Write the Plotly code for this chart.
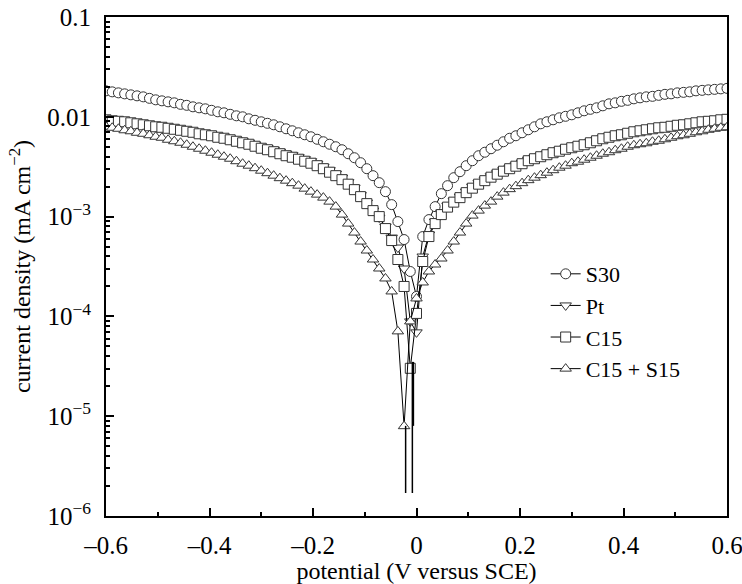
import plotly.graph_objects as go

# Potential (V versus SCE) sampling grid
potential = [-0.6, -0.588, -0.576, -0.564, -0.552, -0.54, -0.528, -0.516, -0.504, -0.492,
             -0.48, -0.468, -0.456, -0.444, -0.432, -0.42, -0.408, -0.396, -0.384, -0.372,
             -0.36, -0.348, -0.336, -0.324, -0.312, -0.3, -0.288, -0.276, -0.264, -0.252,
             -0.24, -0.228, -0.216, -0.204, -0.192, -0.18, -0.168, -0.156, -0.144, -0.132,
             -0.12, -0.108, -0.096, -0.084, -0.072, -0.06, -0.048, -0.036, -0.024, -0.012,
             0.0,
             0.012, 0.024, 0.036, 0.048, 0.06, 0.072, 0.084, 0.096, 0.108, 0.12,
             0.132, 0.144, 0.156, 0.168, 0.18, 0.192, 0.204, 0.216, 0.228, 0.24,
             0.252, 0.264, 0.276, 0.288, 0.3, 0.312, 0.324, 0.336, 0.348, 0.36,
             0.372, 0.384, 0.396, 0.408, 0.42, 0.432, 0.444, 0.456, 0.468, 0.48,
             0.492, 0.504, 0.516, 0.528, 0.54, 0.552, 0.564, 0.576, 0.588, 0.6]

# log10 of current density (mA cm^-2)
s30_log = [-1.74, -1.75, -1.76, -1.77, -1.78, -1.79, -1.80, -1.815, -1.83, -1.84,
           -1.85, -1.86, -1.875, -1.885, -1.90, -1.91, -1.92, -1.935, -1.95, -1.96,
           -1.975, -1.99, -2.00, -2.02, -2.035, -2.05, -2.065, -2.08, -2.10, -2.12,
           -2.14, -2.16, -2.18, -2.20, -2.225, -2.25, -2.275, -2.30, -2.33, -2.37,
           -2.41, -2.46, -2.52, -2.59, -2.66, -2.75, -2.88, -3.05, -3.23, -3.55,
           -3.80,
           -3.20, -3.03, -2.90, -2.77, -2.69, -2.61, -2.55, -2.49, -2.44, -2.39,
           -2.355, -2.32, -2.285, -2.25, -2.215, -2.19, -2.16, -2.13, -2.10, -2.07,
           -2.05, -2.03, -2.01, -1.995, -1.98, -1.96, -1.94, -1.925, -1.91, -1.89,
           -1.87, -1.86, -1.845, -1.835, -1.82, -1.81, -1.80, -1.795, -1.785, -1.775,
           -1.77, -1.76, -1.755, -1.75, -1.74, -1.735, -1.73, -1.725, -1.72, -1.715]

pt_log = [-2.02, -2.03, -2.035, -2.04, -2.05, -2.06, -2.07, -2.08, -2.09, -2.095,
          -2.105, -2.115, -2.125, -2.135, -2.145, -2.16, -2.17, -2.18, -2.195, -2.205,
          -2.22, -2.23, -2.245, -2.26, -2.28, -2.30, -2.315, -2.33, -2.35, -2.37,
          -2.385, -2.405, -2.425, -2.445, -2.47, -2.50, -2.535, -2.57, -2.61, -2.655,
          -2.71, -2.785, -2.86, -2.94, -3.01, -3.10, -3.21, -3.31, -3.52, -4.05,
          -4.16,
          -3.40, -3.18, -3.05, -2.96, -2.89, -2.84, -2.80, -2.75, -2.70, -2.665,
          -2.63, -2.595, -2.565, -2.535, -2.51, -2.485, -2.46, -2.43, -2.41, -2.39,
          -2.37, -2.35, -2.335, -2.315, -2.30, -2.285, -2.27, -2.25, -2.23, -2.21,
          -2.195, -2.18, -2.17, -2.155, -2.14, -2.13, -2.12, -2.11, -2.10, -2.095,
          -2.085, -2.075, -2.07, -2.06, -2.05, -2.04, -2.035, -2.03, -2.02, -2.015]

c15_log = [-2.03, -2.04, -2.045, -2.05, -2.06, -2.07, -2.08, -2.09, -2.10, -2.105,
           -2.115, -2.125, -2.135, -2.145, -2.155, -2.17, -2.18, -2.19, -2.205, -2.215,
           -2.23, -2.245, -2.26, -2.275, -2.295, -2.315, -2.33, -2.35, -2.37, -2.39,
           -2.405, -2.425, -2.445, -2.465, -2.49, -2.52, -2.555, -2.59, -2.63, -2.675,
           -2.73, -2.80, -2.87, -2.94, -3.00, -3.12, -3.24, -3.43, -3.70, -4.52,
           -3.97,
           -3.45, -3.20, -3.07, -2.98, -2.905, -2.855, -2.81, -2.76, -2.715, -2.675,
           -2.64, -2.605, -2.575, -2.545, -2.52, -2.495, -2.47, -2.44, -2.42, -2.40,
           -2.38, -2.36, -2.345, -2.325, -2.31, -2.295, -2.28, -2.26, -2.24, -2.22,
           -2.205, -2.19, -2.18, -2.165, -2.15, -2.14, -2.13, -2.12, -2.11, -2.105,
           -2.095, -2.085, -2.08, -2.07, -2.06, -2.05, -2.045, -2.04, -2.03, -2.025]

c15s15_log = [-2.10, -2.11, -2.12, -2.135, -2.145, -2.16, -2.17, -2.185, -2.20, -2.21,
              -2.23, -2.245, -2.26, -2.28, -2.30, -2.32, -2.34, -2.36, -2.38, -2.40,
              -2.42, -2.445, -2.47, -2.49, -2.515, -2.54, -2.565, -2.59, -2.615, -2.64,
              -2.665, -2.69, -2.72, -2.75, -2.78, -2.81, -2.85, -2.90, -2.98, -3.07,
              -3.16, -3.25, -3.34, -3.43, -3.52, -3.62, -3.75, -4.15, -5.10, -4.05,
              -3.82,
              -3.66, -3.55, -3.48, -3.42, -3.34, -3.25, -3.16, -3.07, -2.99, -2.94,
              -2.89, -2.85, -2.80, -2.76, -2.725, -2.695, -2.665, -2.635, -2.61, -2.585,
              -2.56, -2.535, -2.51, -2.49, -2.465, -2.45, -2.43, -2.41, -2.39, -2.37,
              -2.355, -2.335, -2.32, -2.30, -2.285, -2.275, -2.265, -2.25, -2.24, -2.225,
              -2.21, -2.195, -2.185, -2.17, -2.155, -2.145, -2.13, -2.12, -2.11, -2.105]

# near-zero current dips of the connecting lines around the corrosion potential
spike_potential = [-0.021, -0.008, -0.006]
spike_top = [8e-6, 3.5e-5, 3.5e-5]
spike_bottom = [1.7e-6, 1.7e-6, 8e-6]

series_names = ["S30", "Pt", "C15", "C15 + S15"]
series_logs = [s30_log, pt_log, c15_log, c15s15_log]
symbols = ["circle", "triangle-down", "square", "triangle-up"]

x_tick_vals = [-0.6, -0.4, -0.2, 0, 0.2, 0.4, 0.6]
x_tick_text = ["–0.6", "–0.4", "–0.2", "0", "0.2", "0.4", "0.6"]
x_minor_vals = [-0.5, -0.3, -0.1, 0.1, 0.3, 0.5]
y_tick_vals = [1e-6, 1e-5, 1e-4, 1e-3, 1e-2, 1e-1]
y_tick_text = ["10<sup>−6</sup>", "10<sup>−5</sup>", "10<sup>−4</sup>",
               "10<sup>−3</sup>", "0.01", "0.1"]
y_minor_vals = [m * d for d in [1e-6, 1e-5, 1e-4, 1e-3, 1e-2] for m in range(2, 10)]

FONT = "Liberation Serif"

fig = go.Figure()
for name, logs, sym in zip(series_names, series_logs, symbols):
    assert len(logs) == len(potential), name
    fig.add_trace(go.Scatter(
        x=potential, y=[10 ** v for v in logs], name=name,
        mode="lines+markers",
        line=dict(color="black", width=1),
        marker=dict(symbol=sym, size=10, color="white",
                    line=dict(color="#333333", width=1)),
    ))

for e, top, bot in zip(spike_potential, spike_top, spike_bottom):
    fig.add_trace(go.Scatter(x=[e, e], y=[top, bot], mode="lines",
                             line=dict(color="black", width=1.5),
                             showlegend=False, hoverinfo="skip"))

fig.update_layout(
    width=742, height=584,
    margin=dict(l=106, r=15, t=17, b=68),
    paper_bgcolor="white", plot_bgcolor="white",
    font=dict(family=FONT, size=24, color="black"),
    showlegend=True,
    legend=dict(x=0.708, y=0.527, xanchor="left", yanchor="top",
                bgcolor="rgba(0,0,0,0)", font=dict(size=22, family=FONT),
                tracegroupgap=0),
)
fig.update_xaxes(
    range=[-0.6, 0.6], showgrid=False, zeroline=False, automargin=False,
    showline=True, linecolor="black", linewidth=2, mirror=True,
    ticks="inside", ticklen=8, tickwidth=2, tickcolor="black",
    tickmode="array", tickvals=x_tick_vals, ticktext=x_tick_text,
    minor=dict(ticks="inside", ticklen=4, tickwidth=1.5, tickcolor="black",
               tickmode="array", tickvals=x_minor_vals),
    tickfont=dict(size=25), ticklabelstandoff=6, ticklabeloverflow="allow",
    title=dict(text="potential (V versus SCE)", font=dict(size=24), standoff=2),
)
fig.update_yaxes(
    type="log", range=[-6, -1], showgrid=False, zeroline=False, automargin=False,
    showline=True, linecolor="black", linewidth=2, mirror=True,
    ticks="inside", ticklen=8, tickwidth=2, tickcolor="black",
    tickmode="array", tickvals=y_tick_vals, ticktext=y_tick_text,
    minor=dict(ticks="inside", ticklen=4, tickwidth=1.5, tickcolor="black",
               tickmode="array", tickvals=y_minor_vals),
    tickfont=dict(size=25), ticklabelstandoff=8, ticklabeloverflow="allow",
    title=dict(text="current density (mA cm<sup>−2</sup>)", font=dict(size=24), standoff=10),
)

fig.write_html("out.html", config={"displayModeBar": False},
               post_script="document.body.style.margin='0';")
